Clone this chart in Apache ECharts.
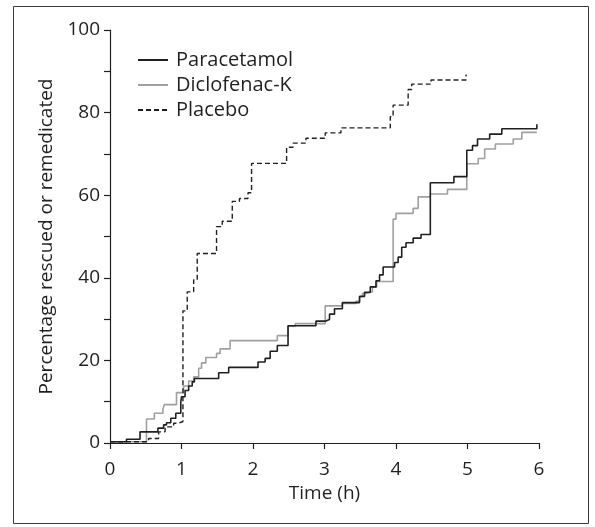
<!DOCTYPE html>
<html>
<head>
<meta charset="UTF-8">
<title>Rescue medication</title>
<script type="text/javascript" src="https://cdn.jsdelivr.net/npm/echarts@6/dist/echarts.min.js"></script>
<style>
  html, body { margin: 0; padding: 0; background: #fff; }
</style>
</head>
<body>
    <div id="main" style="width: 595px;height:527px;"></div>
    <script type="text/javascript">
    // time (h) where a step happens, and the cumulative % after it
    var paraTime = [0, 0.23, 0.42, 0.67, 0.75, 0.79, 0.85, 0.92, 0.99, 1.0, 1.05, 1.1, 1.15, 1.18, 1.52, 1.66,
        2.07, 2.17, 2.24, 2.34, 2.49, 2.88, 3.01, 3.07, 3.14, 3.25, 3.49, 3.56, 3.64, 3.72, 3.77, 3.82,
        3.98, 4.03, 4.08, 4.14, 4.24, 4.35, 4.48, 4.81, 4.99, 5.07, 5.14, 5.31, 5.48, 5.97, 5.97];
    var paraPct = [0.3, 0.9, 2.7, 3.6, 4.4, 4.9, 6.0, 7.2, 9.8, 11.2, 12.7, 13.8, 14.8, 15.6, 17.0, 18.3,
        19.6, 20.5, 22.2, 23.6, 28.4, 29.5, 29.9, 31.2, 32.5, 34.0, 35.5, 36.5, 37.8, 39.3, 40.7, 42.6,
        43.7, 45.0, 47.4, 48.5, 49.6, 50.5, 63.0, 64.5, 70.9, 72.0, 73.6, 74.8, 76.1, 76.1, 77.2];

    var dicloTime = [0, 0.51, 0.62, 0.74, 0.76, 0.93, 1.03, 1.1, 1.17, 1.24, 1.28, 1.34, 1.49, 1.54, 1.68,
        2.34, 2.49, 2.59, 3.01, 3.25, 3.44, 3.49, 3.53, 3.59, 3.67, 3.73, 3.96, 4.0, 4.24, 4.31, 4.48,
        4.72, 4.99, 5.15, 5.24, 5.39, 5.64, 5.76, 5.97];
    var dicloPct = [0.3, 5.8, 7.2, 8.2, 9.3, 12.2, 13.8, 15.0, 16.0, 18.1, 19.4, 20.7, 21.7, 22.8, 24.8,
        26.0, 28.3, 28.9, 33.2, 33.8, 34.3, 35.4, 36.2, 36.6, 37.7, 39.1, 54.2, 55.6, 56.8, 59.6, 60.3,
        61.4, 67.6, 68.9, 71.2, 72.4, 73.6, 75.2, 75.2];

    var placeboTime = [0, 0.54, 0.68, 0.77, 0.89, 0.96, 1.02, 1.08, 1.17, 1.22, 1.49, 1.57, 1.71, 1.81, 1.93,
        1.98, 2.47, 2.56, 2.74, 3.01, 3.23, 3.92, 3.96, 4.17, 4.22, 4.49, 4.98, 4.98];
    var placeboPct = [0.3, 1.1, 2.7, 3.9, 4.8, 5.2, 32.0, 36.6, 39.5, 45.9, 52.4, 53.7, 58.5, 59.2, 60.6,
        67.7, 71.6, 72.6, 73.8, 75.1, 76.3, 79.0, 81.8, 85.6, 86.9, 87.9, 87.9, 89.2];

    var seriesNames = ['Paracetamol', 'Diclofenac-K', 'Placebo'];
    var xTicks = [0, 1, 2, 3, 4, 5, 6];
    var yLabelTicks = [0, 20, 40, 60, 80, 100];

    function pairs(t, p) {
        return t.map(function (x, i) { return [x, p[i]]; });
    }

    var ink = '#231f20';
    var font = 'Open Sans';

    var myChart = echarts.init(document.getElementById('main'));
    var option = {
        animation: false,
        backgroundColor: '#fff',
        textStyle: { fontFamily: font },
        graphic: [{
            type: 'rect',
            shape: { x: 13.5, y: 6.5, width: 575, height: 517 },
            style: { fill: 'none', stroke: '#3a3a3a', lineWidth: 1 },
            silent: true
        }],
        grid: { left: 110, right: 56, top: 30, bottom: 84 },
        legend: {
            data: seriesNames,
            orient: 'vertical',
            left: 132,
            top: 45,
            itemWidth: 30,
            itemHeight: 14,
            itemGap: 5,
            itemStyle: { opacity: 0 },
            textStyle: { fontFamily: font, fontSize: 20, color: ink, padding: [0, 0, 0, 3] }
        },
        xAxis: {
            type: 'value',
            min: xTicks[0],
            max: xTicks[xTicks.length - 1],
            interval: 1,
            name: 'Time (h)',
            nameLocation: 'middle',
            nameGap: 34,
            nameTextStyle: { fontFamily: font, fontSize: 19, color: ink },
            axisLine: { lineStyle: { color: ink, width: 1.2 } },
            axisTick: { length: 6, lineStyle: { color: ink, width: 1.2 } },
            axisLabel: { fontFamily: font, fontSize: 19, color: ink, margin: 17 },
            splitLine: { show: false }
        },
        yAxis: {
            type: 'value',
            min: 0,
            max: 100,
            interval: 10,
            name: 'Percentage rescued or remedicated',
            nameLocation: 'middle',
            nameGap: 49,
            nameTextStyle: { fontFamily: font, fontSize: 19, color: ink },
            axisLine: { show: true, lineStyle: { color: ink, width: 1.2 } },
            axisTick: { show: true, length: 6, lineStyle: { color: ink, width: 1.2 } },
            axisLabel: {
                fontFamily: font, fontSize: 19, color: ink, margin: 10,
                formatter: function (v) { return yLabelTicks.indexOf(v) >= 0 ? String(v) : ''; }
            },
            splitLine: { show: false }
        },
        series: [{
            name: seriesNames[0],
            type: 'line',
            step: 'end',
            symbol: 'none',
            data: pairs(paraTime, paraPct),
            lineStyle: { color: '#231f20', width: 1.6 },
            itemStyle: { color: '#231f20' },
            z: 4
        }, {
            name: seriesNames[1],
            type: 'line',
            step: 'end',
            symbol: 'none',
            data: pairs(dicloTime, dicloPct),
            lineStyle: { color: '#a0a0a0', width: 1.6 },
            itemStyle: { color: '#a0a0a0' },
            z: 3
        }, {
            name: seriesNames[2],
            type: 'line',
            step: 'end',
            symbol: 'none',
            data: pairs(placeboTime, placeboPct),
            lineStyle: { color: '#231f20', width: 1.4, type: [5, 3] },
            itemStyle: { color: '#231f20' },
            z: 5
        }]
    };
    myChart.setOption(option);
    </script>
</body>
</html>
